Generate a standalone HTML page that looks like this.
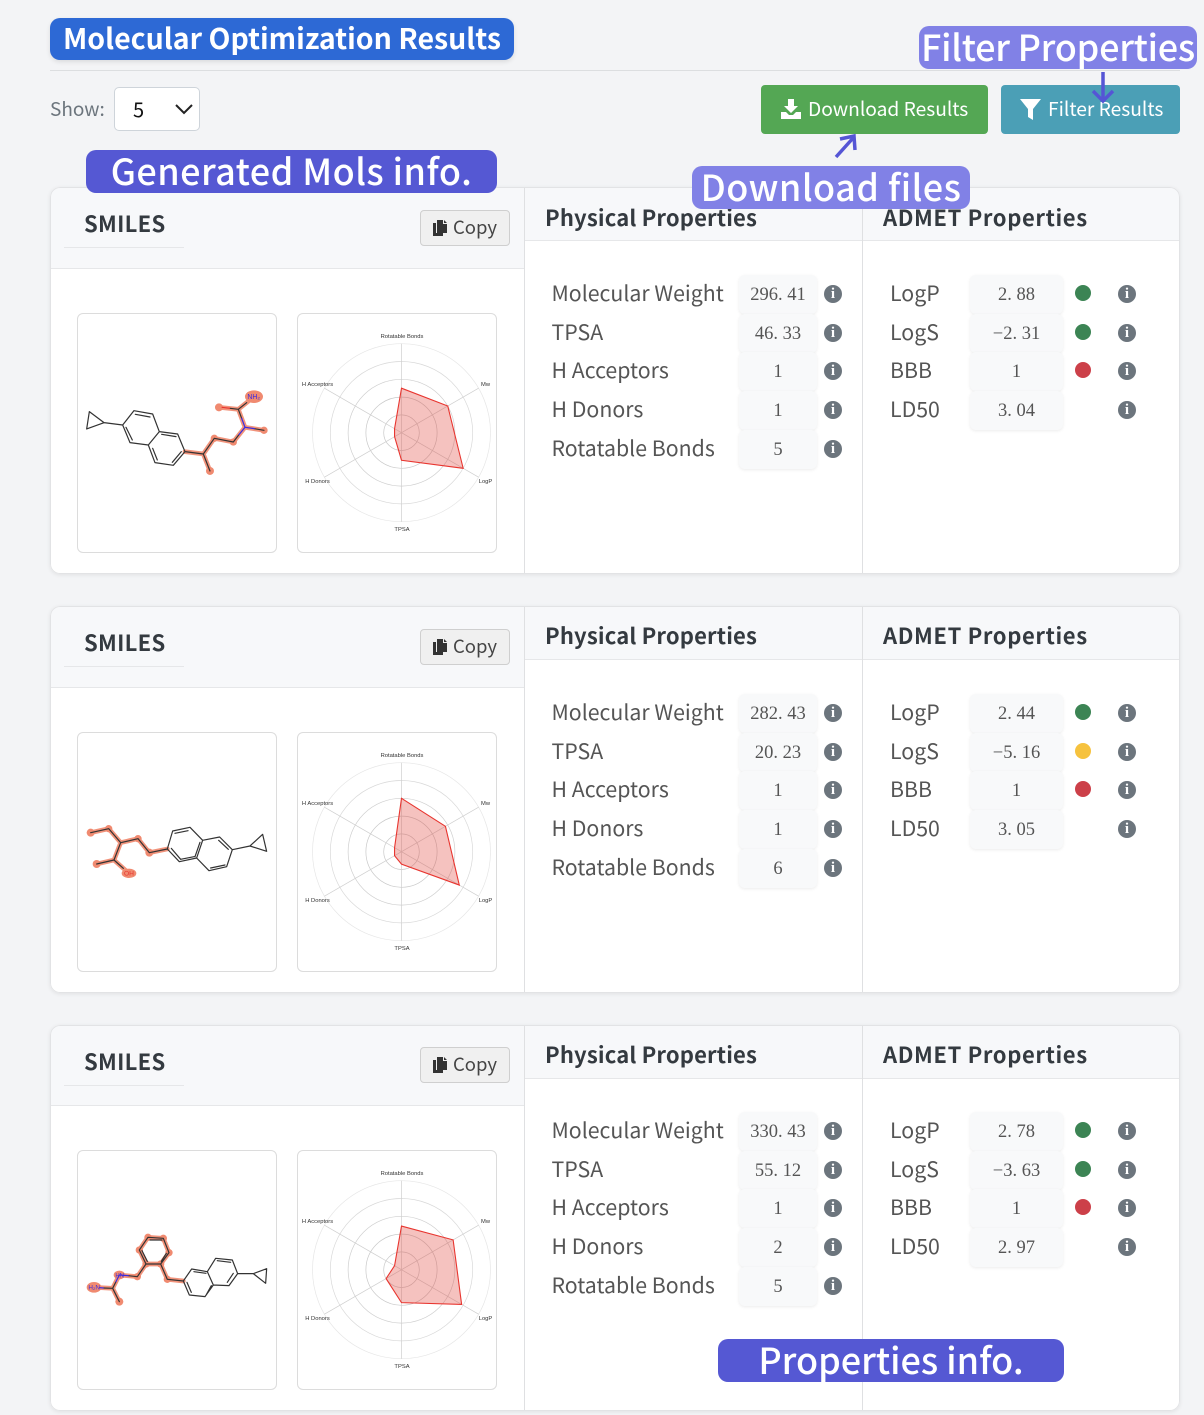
<!DOCTYPE html>
<html lang="en"><head><meta charset="utf-8"><title>Molecular Optimization Results</title>
<style>
*{box-sizing:border-box}
html,body{margin:0;padding:0}
body{width:1204px;height:1415px;position:relative;overflow:hidden;background:#f3f4f6;font-family:"Liberation Sans","Noto Sans CJK SC",sans-serif}
body,.card,.row{font-family:"Noto Sans CJK SC","Liberation Sans",sans-serif}
.abs{position:absolute}
.badge{position:absolute;color:#fff;display:flex;align-items:center;justify-content:center;white-space:nowrap;border-radius:10px;z-index:5;font-weight:500;font-size:36px;padding-bottom:4px}
.card{position:absolute;left:50px;width:1130px;height:387px;background:#fff;border-radius:10px;overflow:hidden;box-shadow:0 1px 4px rgba(0,0,0,.08)}
.card::after{content:"";position:absolute;left:0;top:0;right:0;bottom:0;border:1px solid #e2e3e5;border-radius:10px;pointer-events:none}
.lhead{position:absolute;left:0;top:0;width:474px;height:82px;background:#f7f8fa;border-bottom:1px solid #e6e7e9}
.smiles{position:absolute;left:14px;top:20px;width:120px;height:41px;border-bottom:1px solid #e6e7e9;padding-left:20px;font-size:22px;line-height:32px;font-weight:700;color:#343a40;letter-spacing:.3px}
.copy{position:absolute;left:370px;top:23px;width:90px;height:36px;background:#f0f0f0;border:1px solid #cfcfcf;border-radius:4px;font-size:18.5px;line-height:33px;color:#444;padding-left:32px}
.copy svg{position:absolute;left:12px;top:9px}
.vl{position:absolute;top:0;bottom:0;width:1px;background:#dfe0e2}
.rhead{position:absolute;top:0;height:54px;background:#f7f8fa;border-bottom:1px solid #e6e7e9;font-size:22px;font-weight:700;color:#343a40;line-height:61px;padding-left:20px;white-space:nowrap;letter-spacing:.15px}
.rhead.adm{letter-spacing:.62px}
.up .rhead{line-height:59px}
.box{position:absolute;top:126px;width:200px;height:240px;background:#fff;border:1px solid #dcdcdc;border-radius:6px;overflow:hidden}
.row{position:absolute;left:0;width:1130px;height:39px}
.up3 .row{margin-top:-1px}
.r1{top:88px}.r2{top:127px}.r3{top:165px}.r4{top:204px}.r5{top:243px}
.lab{position:absolute;top:0;line-height:36px;font-size:21.3px;color:#555;white-space:nowrap}
.lab.p{left:501.5px}.lab.a{left:840px}
.val{position:absolute;top:0;height:39px;background:#f8f9fa;border-radius:6px;box-shadow:0 1px 3px rgba(0,0,0,.08);text-align:center;font-family:"Liberation Serif","Noto Serif CJK SC",serif;font-size:18.5px;line-height:40px;color:#555;white-space:pre}
.val.p{left:689px;width:78px}.val.a{left:920px;width:93px}
.info{position:absolute;top:10px;width:18px;height:18px;border-radius:50%;background:#6c757d;color:#fff;font:700 15px/18px "Liberation Serif",serif;text-align:center}
.info.p{left:774px}.info.a{left:1068px}
.dot{position:absolute;left:1025px;top:10px;width:16px;height:16px;border-radius:50%}
.g{background:#3c8454}.y{background:#f6c23e}.d{background:#cc4049}
.mol text{font-family:"Liberation Sans",sans-serif}
.hl{fill:none;stroke:#f08a70;stroke-width:14;stroke-linejoin:round;stroke-linecap:round;opacity:.92}
.bond{fill:none;stroke:#333;stroke-width:3.6;stroke-linejoin:round;stroke-linecap:round}
.blue{fill:none;stroke:#3a2be0;stroke-width:3.6;stroke-linecap:round}
.atom{fill:#f08a70}
</style></head>
<body>

<div class="badge" style="left:50px;top:18px;width:464px;height:42px;background:#2d69d5;font-size:28.5px;font-weight:700;z-index:1;box-shadow:0 2px 5px rgba(0,0,0,.1)">Molecular Optimization Results</div>
<div class="abs" style="left:50px;top:70px;width:1130px;height:1px;background:#dcdee0"></div>

<div class="abs" style="left:50px;top:94px;font-size:19px;line-height:30px;color:#6c757d">Show:</div>
<div class="abs" style="left:114px;top:87px;width:86px;height:44px;background:#fff;border:1px solid #ced4da;border-radius:5px">
  <span class="abs" style="left:18px;top:6px;font-size:20px;line-height:30px;color:#111">5</span>
  <svg class="abs" style="left:60px;top:16px" width="18" height="11"><polyline points="1,1 9,9 17,1" fill="none" stroke="#222" stroke-width="2"/></svg>
</div>

<div class="abs" style="left:761px;top:85px;width:227px;height:49px;background:#54a754;border-radius:4px;color:#fff;font-size:19.2px;line-height:46px;padding-left:47px;white-space:nowrap">
  <svg class="abs" style="left:20px;top:14px" width="20" height="20" viewBox="0 0 20 20"><path d="M7 0h6v7h4l-7 7-7-7h4z" fill="#fff"/><path d="M0 13h5l3 3h4l3-3h5v7H0z" fill="#fff"/></svg>Download Results</div>
<div class="abs" style="left:1001px;top:85px;width:179px;height:49px;background:#4b9fb6;border-radius:4px;color:#fff;font-size:19.2px;line-height:46px;padding-left:47px;white-space:nowrap">
  <svg class="abs" style="left:19px;top:14px" width="21" height="21" viewBox="0 0 21 21"><path d="M0 0h21l-8 10v11l-5-3v-8z" fill="#fff"/></svg>Filter Results</div>

<div class="badge" style="left:919px;top:26px;width:278px;height:43px;background:#8181e6;letter-spacing:-.25px">Filter Properties</div>
<div class="badge" style="left:692px;top:166px;width:278px;height:43px;background:#8181e6;letter-spacing:.45px">Download files</div>
<div class="badge" style="left:86px;top:150px;width:411px;height:43px;background:#5558d3;letter-spacing:.45px">Generated Mols info.</div>
<div class="badge" style="left:718px;top:1339px;width:346px;height:43px;background:#5558d3">Properties info.</div>

<svg class="abs" style="left:0;top:0;z-index:6" width="1204" height="170">
  <g fill="none" stroke="#5555d5" stroke-width="3.5"><line x1="1103" y1="72" x2="1103" y2="100"/><polyline points="1093,91 1103,101 1113,91"/></g>
  <g fill="none" stroke="#5555d5" stroke-width="3.5"><line x1="836" y1="157" x2="854" y2="137"/><polyline points="840,139 854,136 855,150"/></g>
</svg>

<!-- CARD 1 -->
<div class="card" style="top:187px">
  <div class="lhead"></div>
  <div class="smiles">SMILES</div>
  <div class="copy"><svg width="14" height="16" viewBox="0 0 14 16"><path d="M0 3h3v10h7v3H0zM4 0h6v4h4v9H4zM11 0l3 3h-3z" fill="#333"/></svg>Copy</div>
  <div class="vl" style="left:474px"></div>
  <div class="vl" style="left:812px"></div>
  <div class="rhead" style="left:475px;width:337px">Physical Properties</div>
  <div class="rhead adm" style="left:813px;width:317px">ADMET Properties</div>
  <div class="box mol" style="left:27px">
    <svg width="200" height="240" style="position:absolute;left:-1px;top:-1px"><g transform="translate(-27,-13) scale(.3333)">
      <path class="hl" d="M405 455L460 462L480 513M460 462L493 415L550 426L585 382L642 391M585 382L565 328L507 322M565 328L612 290"/>
      <circle class="atom" cx="507" cy="322" r="12"/><circle class="atom" cx="642" cy="391" r="11"/><circle class="atom" cx="480" cy="513" r="12"/><circle class="atom" cx="493" cy="415" r="11"/><circle class="atom" cx="550" cy="426" r="11"/><ellipse class="atom" cx="612" cy="290" rx="27" ry="19"/>
      <path class="bond" d="M118 335L110 387L162 368ZM162 368L218 375L252 332L308 342L328 395L295 435L240 428L218 375M256 343L300 351M228 382L247 420M328 395L383 402L405 455L370 496L315 488L295 435M335 403L378 410M394 455L367 487M308 445L322 480M405 455L460 462L480 513M460 462L493 415L550 426L567 404M613 386L642 391M575 355L565 328L540 325M565 328L590 308"/>
      <path class="blue" d="M567 404L585 382L613 386M585 382L575 355"/><line x1="515" y1="322" x2="540" y2="325" stroke="#e8352f" stroke-width="3.6"/>
      <text x="592" y="297" font-size="21" fill="#3a2be0">NH₂</text>
    </g></svg>
  </div>
  <div class="box" style="left:247px"><svg id="radar-1" width="200" height="240" style="position:absolute;left:-1px;top:-1px"></svg></div>

  <div class="row r1"><div class="lab p">Molecular Weight</div><div class="val p">296. 41</div><div class="info p">i</div></div>
  <div class="row r2"><div class="lab p">TPSA</div><div class="val p">46. 33</div><div class="info p">i</div></div>
  <div class="row r3"><div class="lab p">H Acceptors</div><div class="val p">1</div><div class="info p">i</div></div>
  <div class="row r4"><div class="lab p">H Donors</div><div class="val p">1</div><div class="info p">i</div></div>
  <div class="row r5"><div class="lab p">Rotatable Bonds</div><div class="val p">5</div><div class="info p">i</div></div>

  <div class="row r1"><div class="lab a">LogP</div><div class="val a">2. 88</div><div class="dot g"></div><div class="info a">i</div></div>
  <div class="row r2"><div class="lab a">LogS</div><div class="val a">−2. 31</div><div class="dot g"></div><div class="info a">i</div></div>
  <div class="row r3"><div class="lab a">BBB</div><div class="val a">1</div><div class="dot d"></div><div class="info a">i</div></div>
  <div class="row r4"><div class="lab a">LD50</div><div class="val a">3. 04</div><div class="info a">i</div></div>
</div>

<!-- CARD 2 -->
<div class="card up" style="top:606px">
  <div class="lhead"></div>
  <div class="smiles">SMILES</div>
  <div class="copy"><svg width="14" height="16" viewBox="0 0 14 16"><path d="M0 3h3v10h7v3H0zM4 0h6v4h4v9H4zM11 0l3 3h-3z" fill="#333"/></svg>Copy</div>
  <div class="vl" style="left:474px"></div>
  <div class="vl" style="left:812px"></div>
  <div class="rhead" style="left:475px;width:337px">Physical Properties</div>
  <div class="rhead adm" style="left:813px;width:317px">ADMET Properties</div>
  <div class="box mol" style="left:27px">
    <svg width="200" height="240" style="position:absolute;left:-1px;top:-1px"><g transform="translate(-17,48) scale(.3333)">
      <path class="hl" d="M322 207L268 218L234 176L182 188L146 146L92 158M182 188L162 240L110 252M162 240L207 280"/>
      <circle class="atom" cx="92" cy="158" r="12"/><circle class="atom" cx="146" cy="146" r="11"/><circle class="atom" cx="234" cy="176" r="11"/><circle class="atom" cx="268" cy="218" r="12"/><circle class="atom" cx="110" cy="252" r="12"/><ellipse class="atom" cx="207" cy="280" rx="22" ry="14"/>
      <path class="bond" d="M608 163L620 214L570 198ZM570 198L517 209L479 171L428 181L410 234L447 272L500 260L517 209M476 181L505 208M452 264L495 255M420 187L405 230M428 181L390 142L338 153L322 207L358 245L410 234M345 160L384 152M334 205L362 238M362 238L402 230M322 207L268 218L234 176L182 188L146 146L92 158M182 188L162 240L110 252M162 240L190 265"/>
      <text x="192" y="287" font-size="20" fill="#e8352f">OH</text>
    </g></svg>
  </div>
  <div class="box" style="left:247px"><svg id="radar-2" width="200" height="240" style="position:absolute;left:-1px;top:-1px"></svg></div>

  <div class="row r1"><div class="lab p">Molecular Weight</div><div class="val p">282. 43</div><div class="info p">i</div></div>
  <div class="row r2"><div class="lab p">TPSA</div><div class="val p">20. 23</div><div class="info p">i</div></div>
  <div class="row r3"><div class="lab p">H Acceptors</div><div class="val p">1</div><div class="info p">i</div></div>
  <div class="row r4"><div class="lab p">H Donors</div><div class="val p">1</div><div class="info p">i</div></div>
  <div class="row r5"><div class="lab p">Rotatable Bonds</div><div class="val p">6</div><div class="info p">i</div></div>

  <div class="row r1"><div class="lab a">LogP</div><div class="val a">2. 44</div><div class="dot g"></div><div class="info a">i</div></div>
  <div class="row r2"><div class="lab a">LogS</div><div class="val a">−5. 16</div><div class="dot y"></div><div class="info a">i</div></div>
  <div class="row r3"><div class="lab a">BBB</div><div class="val a">1</div><div class="dot d"></div><div class="info a">i</div></div>
  <div class="row r4"><div class="lab a">LD50</div><div class="val a">3. 05</div><div class="info a">i</div></div>
</div>

<!-- CARD 3 -->
<div class="card up up3" style="top:1025px;height:386px">
  <div class="lhead" style="height:81px"></div>
  <div class="smiles">SMILES</div>
  <div class="copy" style="top:22px"><svg width="14" height="16" viewBox="0 0 14 16"><path d="M0 3h3v10h7v3H0zM4 0h6v4h4v9H4zM11 0l3 3h-3z" fill="#333"/></svg>Copy</div>
  <div class="vl" style="left:474px"></div>
  <div class="vl" style="left:812px"></div>
  <div class="rhead" style="left:475px;width:337px">Physical Properties</div>
  <div class="rhead adm" style="left:813px;width:317px">ADMET Properties</div>
  <div class="box mol" style="left:27px;top:125px">
    <svg width="200" height="240" style="position:absolute;left:-1px;top:-1px"><g transform="translate(-7,70) scale(.3333)">
      <path class="hl" d="M340 183L292 178L272 132L297 98L280 55L234 52L208 90L228 132L272 132M228 132L202 170L148 165L128 205L72 202M128 205L148 245"/>
      <circle class="atom" cx="292" cy="178" r="11"/><circle class="atom" cx="297" cy="98" r="11"/><circle class="atom" cx="280" cy="55" r="11"/><circle class="atom" cx="234" cy="52" r="11"/><circle class="atom" cx="208" cy="90" r="11"/><circle class="atom" cx="228" cy="132" r="11"/><circle class="atom" cx="272" cy="132" r="11"/><circle class="atom" cx="202" cy="170" r="11"/><circle class="atom" cx="148" cy="245" r="12"/><ellipse class="atom" cx="148" cy="165" rx="17" ry="13"/><ellipse class="atom" cx="72" cy="202" rx="22" ry="16"/>
      <path class="bond" d="M590 146L587 190L550 161ZM550 161L503 161L487 120L437 115L412 155L430 195L477 197L503 161M482 127L442 122M490 160L472 187M412 155L365 147L340 183L358 225L405 230L430 195M372 155L408 160M351 187L364 217M410 222L424 197M340 183L292 178L272 132L297 98L280 55L234 52L208 90L228 132L272 132M276 60L240 60M289 100L274 124M216 92L232 124M228 132L202 170L175 167M138 185L128 205L148 245M128 205L100 204"/>
      <path class="blue" d="M175 167L148 165L138 185M100 204L90 203"/>
      <text x="136" y="172" font-size="18" fill="#3a2be0">HN</text>
      <text x="55" y="209" font-size="19" fill="#3a2be0">H₂N</text>
    </g></svg>
  </div>
  <div class="box" style="left:247px;top:125px"><svg id="radar-3" width="200" height="240" style="position:absolute;left:-1px;top:-1px"></svg></div>

  <div class="row r1"><div class="lab p">Molecular Weight</div><div class="val p">330. 43</div><div class="info p">i</div></div>
  <div class="row r2"><div class="lab p">TPSA</div><div class="val p">55. 12</div><div class="info p">i</div></div>
  <div class="row r3"><div class="lab p">H Acceptors</div><div class="val p">1</div><div class="info p">i</div></div>
  <div class="row r4"><div class="lab p">H Donors</div><div class="val p">2</div><div class="info p">i</div></div>
  <div class="row r5"><div class="lab p">Rotatable Bonds</div><div class="val p">5</div><div class="info p">i</div></div>

  <div class="row r1"><div class="lab a">LogP</div><div class="val a">2. 78</div><div class="dot g"></div><div class="info a">i</div></div>
  <div class="row r2"><div class="lab a">LogS</div><div class="val a">−3. 63</div><div class="dot g"></div><div class="info a">i</div></div>
  <div class="row r3"><div class="lab a">BBB</div><div class="val a">1</div><div class="dot d"></div><div class="info a">i</div></div>
  <div class="row r4"><div class="lab a">LD50</div><div class="val a">2. 97</div><div class="info a">i</div></div>
</div>

<script>
const radarCategories = ['Rotatable Bonds', 'Mw', 'LogP', 'TPSA', 'H Donors', 'H Acceptors'];
const ringLevels = [0.2, 0.4, 0.6, 0.8, 1.0];
const ringColors = ['#c9c9c9', '#c9c9c9', '#cfcfcf', '#d9d9d9', '#e6e6e6'];
const molecule1Values = [0.50, 0.60, 0.80, 0.31, 0.09, 0.09];
const molecule2Values = [0.60, 0.57, 0.75, 0.14, 0.09, 0.09];
const molecule3Values = [0.49, 0.67, 0.78, 0.37, 0.20, 0.09];

const NS = 'http://www.w3.org/2000/svg';
const CX = 104.5, CY = 119.7, R = 89;
function angleFor(i) { return -Math.PI / 2 + i * 2 * Math.PI / radarCategories.length; }
function radiusFor(v) { return v * R; }
function pointFor(i, v) {
  const a = angleFor(i), r = radiusFor(v);
  return [CX + r * Math.cos(a), CY + r * Math.sin(a)];
}
function drawRadar(id, values) {
  const svg = document.getElementById(id);
  ringLevels.forEach(function (level, k) {
    const c = document.createElementNS(NS, 'circle');
    
    
    c.setAttribute('cx', CX);
    c.setAttribute('cy', CY);
    c.setAttribute('r', radiusFor(level));
    c.setAttribute('fill', 'none');
    c.setAttribute('stroke', ringColors[k]);
    c.setAttribute('stroke-width', '0.7');
    svg.appendChild(c);
  });
  radarCategories.forEach(function (name, i) {
    const p = pointFor(i, 1);
    const l = document.createElementNS(NS, 'line');
    
    
    l.setAttribute('x1', CX);
    l.setAttribute('y1', CY);
    l.setAttribute('x2', p[0]);
    l.setAttribute('y2', p[1]);
    l.setAttribute('stroke', '#cfcfcf');
    l.setAttribute('stroke-width', '0.7');
    svg.appendChild(l);

    const lp = pointFor(i, 1.08);
    const t = document.createElementNS(NS, 'text');
    
    
    const a = angleFor(i), cos = Math.cos(a);
    const x = Math.abs(cos) < 0.01 ? lp[0] + 0.5 : (cos > 0 ? CX + 84 : CX - 84);
    const y = Math.abs(cos) < 0.01 ? (Math.sin(a) < 0 ? CY - 94.5 : CY + 98.5) : (Math.sin(a) < 0 ? CY - 46.5 : CY + 50.5);
    t.setAttribute('x', x);
    t.setAttribute('y', y);
    t.setAttribute('text-anchor', 'middle');
    t.setAttribute('font-family', '"Liberation Sans", sans-serif');
    t.setAttribute('font-size', '5.8');
    t.setAttribute('fill', '#333');
    t.textContent = name;
    svg.appendChild(t);
  });
  const pg = document.createElementNS(NS, 'polygon');
  
  
  pg.setAttribute('points', values.map(function (v, i) { return pointFor(i, v).join(','); }).join(' '));
  pg.setAttribute('fill', 'rgba(226,70,60,0.33)');
  pg.setAttribute('stroke', '#e8352f');
  pg.setAttribute('stroke-width', '1.1');
  svg.appendChild(pg);
}
drawRadar('radar-1', molecule1Values);
drawRadar('radar-2', molecule2Values);
drawRadar('radar-3', molecule3Values);
</script>
</body></html>
